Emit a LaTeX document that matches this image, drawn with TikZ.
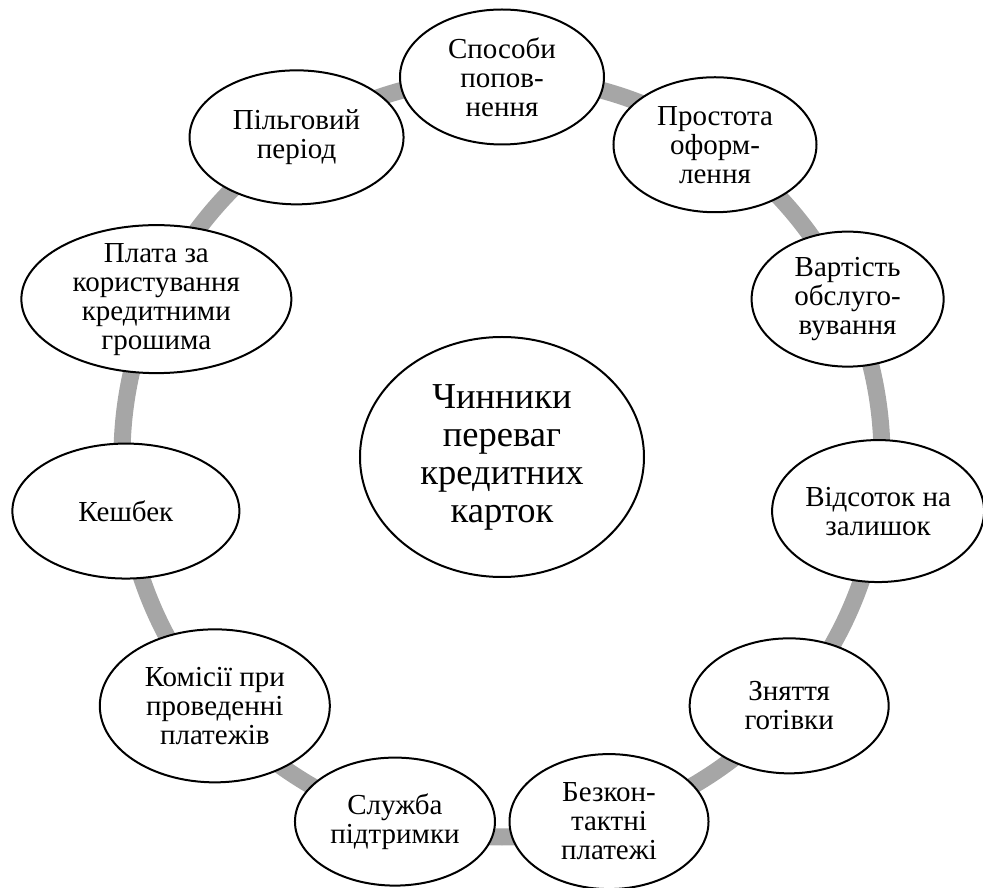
\documentclass[tikz,border=0pt]{standalone}
\usepackage{fontspec}
\setmainfont{Liberation Serif}
\usetikzlibrary{shapes.geometric}
\definecolor{ringgray}{RGB}{166,166,166}
\tikzset{
  factor/.style={ellipse, draw=black, line width=2pt, fill=white,
                 align=center, inner xsep=0pt, inner ysep=-8pt,
                 font=\fontsize{29}{29}\selectfont},
  hub/.style={factor, font=\fontsize{36.5}{38}\selectfont}
}
\begin{document}
\begin{tikzpicture}[x=1pt, y=1pt]
  \useasboundingbox (-502,-431) rectangle (481,457);
  \coordinate (ctr) at (0,0);
  % grey ring behind the factors
  \draw[ringgray, line width=17pt] (ctr) circle[radius=380pt];

  \node[hub, minimum width=284pt, minimum height=240pt] (hub) at (ctr)
    {Чинники\\переваг\\кредитних\\карток};

  \node[factor, minimum width=204pt, minimum height=135pt] (sposoby)
    at (90:380pt) {Способи\\попов-\\нення};
  \node[factor, minimum width=203pt, minimum height=135pt] (prostota)
    at (55.7:378pt) {Простота\\оформ-\\лення};
  \node[factor, minimum width=192pt, minimum height=135pt] (vartist)
    at (24.55:380pt) {Вартість\\обслуго-\\вування};
  \node[factor, minimum width=212pt, minimum height=142pt] (vidsotok)
    at (-8.18:380pt) {Відсоток на\\залишок};
  \node[factor, minimum width=199pt, minimum height=135pt] (znyattya)
    at (-40.91:380pt) {Зняття\\готівки};
  \node[factor, minimum width=199pt, minimum height=135pt] (bezkont)
    at (-73.64:380pt) {Безкон-\\тактні\\платежі};
  \node[factor, minimum width=200pt, minimum height=128pt] (sluzhba)
    at (-106.36:380pt) {Служба\\підтримки};
  \node[factor, minimum width=230pt, minimum height=153pt] (komisii)
    at (-139.09:380pt) {Комісії при\\проведенні\\платежів};
  \node[factor, minimum width=227pt, minimum height=135pt] (keshbek)
    at (-171.82:380pt) {Кешбек};
  \node[factor, minimum width=270pt, minimum height=148pt] (plata)
    at (155.45:380pt) {Плата за\\користування\\кредитними\\грошима};
  \node[factor, minimum width=214pt, minimum height=134pt] (pilgovyi)
    at (122.73:380pt) {Пільговий\\період};
\end{tikzpicture}
\end{document}
